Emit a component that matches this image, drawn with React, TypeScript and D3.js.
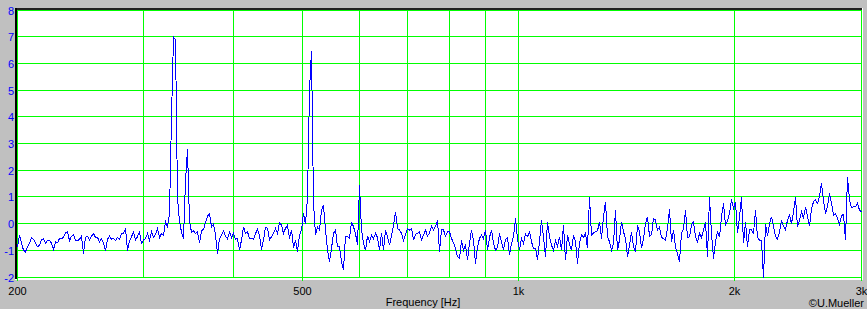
import React from 'react';
import * as d3 from 'd3';

const W = 867;
const H = 309;

const fStart = 200;
const fEnd = 3000;

const yTicks = [-2, -1, 0, 1, 2, 3, 4, 5, 6, 7, 8];
const xGridFreqs = [200, 300, 400, 500, 600, 700, 800, 900, 1000, 2000, 3000];
const xLabelFreqs = [200, 500, 1000, 2000, 3000];
const xLabelTexts = ['200', '500', '1k', '2k', '3k'];

// spectrum values (log-spaced frequency bins from 200 Hz to 3 kHz)
const valuesLow = [
  -0.85, -0.41, -0.72, -0.98, -1.04, -0.85, -0.72, -0.5, -0.57, -0.72,
  -0.85, -0.79, -0.6, -0.54, -0.72, -0.6, -0.6, -0.72, -0.95, -0.66,
  -0.7, -0.54, -0.54, -0.5, -0.33, -0.29, -0.62, -0.45, -0.41, -0.6,
  -0.62, -0.57, -0.45, -1.1, -0.5, -0.45, -0.6, -0.45, -0.35, -0.5,
  -0.5, -0.66, -0.54, -0.7, -1.0, -0.57, -0.45, -0.57, -0.54, -0.62,
  -0.5, -0.57, -0.35, -0.35, -0.16, -1.0, -0.62, -0.47, -0.29, -0.6,
  -0.47, -0.29, -0.72, -0.6, -0.54, -0.35, -0.6, -0.29, -0.5, -0.38,
  -0.16, -0.5, -0.35, -0.41, 0.09, -0.1,
  0.4, 4.0, 7.0, 6.9, 1.0, 0.1, -0.3, -0.55, 1.6, 2.8,
  0.1, -0.3, -0.25, -0.35, -0.3, -0.7, -0.25, -0.2, 0.05, 0.3,
  0.4, -0.1, 0.0, -0.4, -1.1, -0.55, -0.4, -0.25, -0.45, -0.55,
  -0.3,
];

const valuesMid = [
  -0.5, -0.35, -0.57, -0.54, -0.98, -0.6, -0.1, -0.35, -0.29, -0.54,
  -0.54, -0.57, -0.35, -0.2, -0.41, -0.95, -0.6, -0.12, -0.16, -0.6,
  -0.47, -0.35, -0.16, -0.35, 0.05, -0.04, -0.35, -0.16, -0.04, -0.54,
  -0.22, -0.88, -0.6, -1.04, -0.41, -0.22, 0.4, 0.0, 1.0, 5.0,
  6.5, 0.8, -0.4, -0.12, -0.22, 0.52, 0.71, -0.22, -0.98, -1.41,
  -0.91, -0.35, -0.22, -0.85, -0.85, -1.41, -1.7, -0.45, -0.47, -0.54,
  0.09, -0.1, -0.35, -0.79, 1.46, -0.22, -0.72, -0.98, -0.45, -0.66,
  -0.41, -0.54, -0.35, -0.5, -0.98, -0.33, -0.98, -0.22, -0.47, -0.79,
  -0.45, -0.04, 0.46, -0.16, -0.22, -0.35, -0.62, -0.41, -0.16, -0.22,
  -0.16, -0.6, -0.38, -0.35, -0.29, -0.6, -0.41, -0.22, -0.45, -0.33,
  -0.08, -0.22, -0.08, 0.15, -1.04, -0.2,
];

const valuesHigh = [
  -0.22, -0.45, -0.29, -0.29, -0.54, -0.7, -0.91, -1.22, -1.29, -0.6,
  -0.98, -0.79, -1.35, -0.72, -0.22, -0.6, -1.48, -0.85, -0.54, -0.41,
  -0.54, -0.22, -0.98, -0.5, -0.22, -0.72, -0.98, -0.88, -0.35, -0.66,
  -0.98, -0.57, -0.5, -1.16, -0.72, -0.47, 0.21, -0.57, -0.95, -0.54,
  -0.72, -0.38, -0.47, -0.29, -0.66, -0.91, -0.91, -1.35, -0.66, 0.15,
  -0.5, -1.22, 0.09, -0.47, -0.79, -0.98, -0.62, -0.85, -0.47, -0.98,
  -0.04, -1.35, -0.41, -0.75, -0.98, -0.41, -0.66, -1.48, -0.72, -0.41,
  -0.5, -0.35, -0.91, 1.0, -0.41, -0.33, -0.29, -0.25, 0.09, -0.54,
  0.27, 0.84, -0.47, -0.66, -0.98, -0.72, 0.52, -0.98, -0.6, 0.09,
  -0.29, -0.54, -1.22, -0.79, -0.29, -0.85, -1.04, -0.04, -0.29, -0.91,
  -0.54, 0.02, 0.27, -0.45, -0.4,
];

const valuesTop = [
  0.21, 0.15, -0.22, -0.12, -0.5, -0.54, -0.6, -0.16, 0.55, -0.66,
  -0.22, -0.85, -1.12, -1.41, -0.35, -0.16, 0.52, -0.5, -0.47, -0.04,
  0.09, -0.47, -0.66, -0.35, -0.5, -0.22, 0.09, -1.22, 1.0, -0.35,
  -1.29, -0.66, -0.29, -0.47, 0.27, 0.78, -0.04, 0.12, 0.4, 0.93,
  0.59, 0.84, -0.35, 0.27, 1.0, -0.72, 0.09, -0.85, -0.22, -0.22,
  -0.35, 0.52, -0.5, -0.6, -0.6, -2.04, 0.02, -0.45, 0.02, 0.27,
  -0.08, -0.47, -0.57, -0.29, 0.15, -0.08, -0.22, 0.15, 0.34, 0.02,
  0.46, 1.0, -0.1, 0.15, 0.46, 0.21, 0.65, 0.27, -0.08, 0.55,
  0.84, 0.9, 0.78, 1.03, 1.53, 0.9, 0.4, 0.65, 1.15, 0.78,
  0.34, 0.4, 0.21, 0.0, 0.3, 0.37, -0.6, 1.78, 0.9, 0.62,
  0.65, 0.65, 0.78, 0.52, 0.46,
];

const values = [...valuesLow, ...valuesMid, ...valuesHigh, ...valuesTop];

const PL = 17;
const PR = 861;
const PT = 10.5;
const PB = 277.5;

const GREEN = '#00ff00';
const BLUE = '#0000ff';
const FONT = '"Liberation Sans", Arial, sans-serif';

export default function App() {
  const x = d3.scaleLog().domain([fStart, fEnd]).range([PL, PR]);
  const y = d3.scaleLinear().domain([-2, 8]).range([PB, PT]);
  const n = values.length;
  const data = values.map((v, i) => ({
    f: fStart * Math.pow(fEnd / fStart, i / (n - 1)),
    v,
  }));
  const gx = (f: number) => Math.floor(x(f) + 0.001) + 0.5;
  const gy = (v: number) => Math.floor(y(v) - 0.5 + 0.001) + 0.5;
  const line = d3
    .line<{ f: number; v: number }>()
    .x((d) => x(d.f) + 0.5)
    .y((d) => y(d.v));

  return (
    <svg
      width={W}
      height={H}
      style={{ position: 'absolute', left: 0, top: 0, display: 'block' }}
    >
      <defs>
        <clipPath id="plotClip">
          <rect x={PL} y={10} width={PR - PL + 1} height={268} />
        </clipPath>
      </defs>
      <rect x={0} y={0} width={W} height={H} fill="#c0c0c0" />
      {/* sunken frame */}
      <rect x={15} y={8} width={848} height={272} fill="#ffffff" />
      <rect x={15} y={8} width={847} height={2} fill="#202020" />
      <rect x={15} y={8} width={2} height={271} fill="#000000" />
      <rect x={PL} y={10} width={845} height={269} fill="#ffffff" />

      {/* grid */}
      {yTicks.map((t) => (
        <line
          key={'h' + t}
          x1={PL}
          x2={PR + 1}
          y1={gy(t)}
          y2={gy(t)}
          stroke={GREEN}
          strokeWidth={1}
        />
      ))}
      {xGridFreqs.map((f) => (
        <line
          key={'v' + f}
          x1={gx(f)}
          x2={gx(f)}
          y1={10}
          y2={278}
          stroke={GREEN}
          strokeWidth={1}
        />
      ))}
      {xLabelFreqs.map((f) => (
        <line
          key={'t' + f}
          x1={gx(f)}
          x2={gx(f)}
          y1={277}
          y2={281}
          stroke={GREEN}
          strokeWidth={1}
        />
      ))}

      {/* spectrum */}
      <g clipPath="url(#plotClip)">
        <path
          d={line(data) || ''}
          fill="none"
          stroke={BLUE}
          strokeWidth={1}
          shapeRendering="crispEdges"
        />
      </g>

      {/* y labels */}
      {yTicks.map((t) => (
        <text
          key={'yl' + t}
          x={14}
          y={gy(t) + 4}
          textAnchor="end"
          fontFamily={FONT}
          fontSize={11}
          fill={BLUE}
        >
          {t}
        </text>
      ))}

      {/* x labels */}
      {xLabelFreqs.map((f, i) => (
        <text
          key={'xl' + f}
          x={gx(f)}
          y={295}
          textAnchor="middle"
          fontFamily={FONT}
          fontSize={11}
          fill="#000000"
        >
          {xLabelTexts[i]}
        </text>
      ))}

      <text
        x={423}
        y={306}
        textAnchor="middle"
        fontFamily={FONT}
        fontSize={11}
        fill="#000000"
      >
        Frequency [Hz]
      </text>
      <text
        x={864}
        y={306.5}
        textAnchor="end"
        fontFamily={FONT}
        fontSize={11}
        fill="#000000"
      >
        ©U.Mueller
      </text>
    </svg>
  );
}
